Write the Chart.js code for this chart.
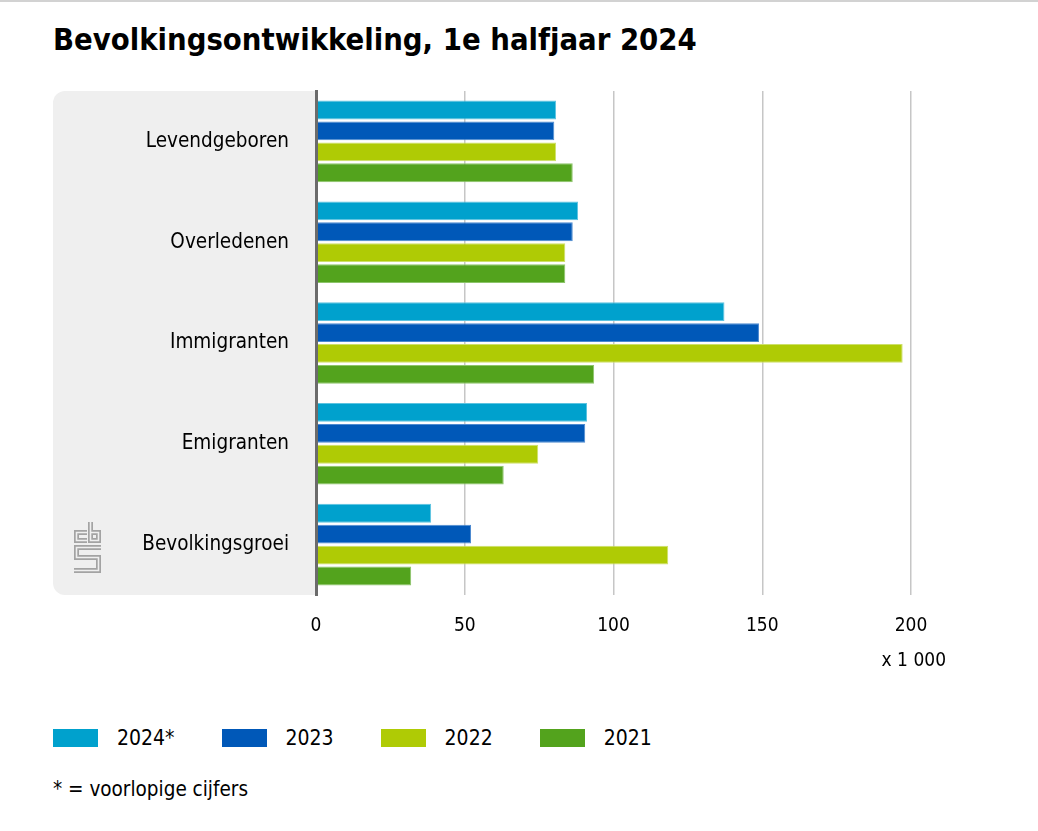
<!DOCTYPE html>
<html>
<head>
<meta charset="utf-8">
<script src="https://cdn.jsdelivr.net/npm/chart.js@4.4.1/dist/chart.umd.min.js"></script>
<style>
  body { margin: 0; background: #fff; font-family: 'DejaVu Sans Condensed', 'DejaVu Sans', sans-serif; }
  #topline { position: absolute; left: 0; top: 0; width: 1038px; height: 2px; background: #d2d2d2; }
  #title { position: absolute; left: 53px; top: 22px; font-size: 30.7px; font-weight: bold; color: #000; white-space: nowrap; }
  #wrap { position: absolute; left: 53px; top: 81px; width: 907px; height: 599px; }
  #legend { position: absolute; left: 53px; top: 726px; display: flex; font-size: 21px; color: #000; }
  .item { display: flex; align-items: center; margin-right: 47px; }
  .box { width: 45px; height: 18px; margin-right: 19px; }
  #note { position: absolute; left: 53px; top: 777px; font-size: 20.5px; color: #000; }
</style>
</head>
<body>
<div id="topline"></div>
<div id="title">Bevolkingsontwikkeling, 1e halfjaar 2024</div>
<div id="wrap"><canvas id="chart"></canvas></div>
<div id="legend"></div>
<div id="note">* = voorlopige cijfers</div>
<script>
const categories = ['Levendgeboren', 'Overledenen', 'Immigranten', 'Emigranten', 'Bevolkingsgroei'];
const seriesNames = ['2024*', '2023', '2022', '2021'];
const values2024 = [80.7, 88.1, 137.3, 91.1, 38.7];
const values2023 = [80.1, 86.3, 148.9, 90.5, 52.1];
const values2022 = [80.7, 83.8, 197.2, 74.7, 118.4];
const values2021 = [86.3, 83.8, 93.5, 63.1, 32.0];
const xTicks = [0, 50, 100, 150, 200];
const unitLabel = 'x 1 000';

const colors = ['#00a1cd', '#0058b8', '#afcb05', '#53a31d'];
const edges = ['#5cc3e0', '#4d8ad0', '#cde06a', '#8cc46a'];
const allValues = [values2024, values2023, values2022, values2021];

const fontFam = "'DejaVu Sans Condensed', 'DejaVu Sans', sans-serif";
Chart.defaults.font.family = fontFam;
Chart.defaults.color = '#000';

// grijs paneel achter de categorieen + logo + eenheid
const panelPlugin = {
    id: 'panel',
    beforeDraw(chart) {
        const ctx = chart.ctx;
        const a = chart.chartArea;
        ctx.save();
        ctx.fillStyle = '#efefef';
        ctx.beginPath();
        ctx.roundRect(0, a.top, a.left, a.bottom - a.top, [12, 0, 0, 12]);
        ctx.fill();

        // cbs logo, ruwweg; punten gemeten t.o.v. linksonder plotgebied (316, 595)
        const paths = [
            [[87, 532.5], [76.5, 532.5], [76.5, 540.5], [87, 540.5]],
            [[90.5, 522], [90.5, 540.5], [98.5, 540.5], [98.5, 532.5], [90.5, 532.5]],
            [[101, 547.5], [76.5, 547.5], [76.5, 557.5], [98.5, 557.5], [98.5, 570.5], [74, 570.5]]
        ];
        ctx.lineJoin = 'miter';
        ctx.lineCap = 'butt';
        [[5, '#a3a3a3'], [1.6, '#efefef']].forEach(function(st) {
            ctx.lineWidth = st[0];
            ctx.strokeStyle = st[1];
            paths.forEach(function(p) {
                ctx.beginPath();
                p.forEach(function(pt, i) {
                    const x = pt[0] - 316 + a.left;
                    const y = pt[1] - 595 + a.bottom;
                    if (i === 0) ctx.moveTo(x, y);
                    else ctx.lineTo(x, y);
                });
                ctx.stroke();
            });
        });
        ctx.restore();
    },
    afterDraw(chart) {
        const ctx = chart.ctx;
        const a = chart.chartArea;
        ctx.save();
        ctx.font = '19px ' + fontFam;
        ctx.fillStyle = '#000';
        ctx.textAlign = 'right';
        ctx.textBaseline = 'middle';
        ctx.fillText(unitLabel, a.right + 35, a.bottom + 66);
        ctx.restore();
    }
};

const datasets = seriesNames.map(function(name, i) {
    return {
        label: name,
        data: allValues[i],
        backgroundColor: colors[i],
        borderColor: edges[i],
        borderWidth: 1,
        borderSkipped: 'start',
        barPercentage: 0.9,
        categoryPercentage: 0.83
    };
});

new Chart(document.getElementById('chart'), {
    type: 'bar',
    data: { labels: categories, datasets: datasets },
    options: {
        indexAxis: 'y',
        responsive: true,
        maintainAspectRatio: false,
        animation: false,
        layout: { padding: { top: 10, right: 49, left: 0, bottom: 0 } },
        plugins: {
            legend: { display: false },
            tooltip: { enabled: false }
        },
        scales: {
            x: {
                min: xTicks[0],
                max: xTicks[xTicks.length - 1],
                afterBuildTicks(scale) {
                    scale.ticks = xTicks.map(function(v) { return { value: v }; });
                },
                afterFit(scale) { scale.height = 85; },
                grid: { color: '#c6c6c6', lineWidth: 1.5, drawTicks: false },
                border: { display: false },
                ticks: { padding: 20, font: { size: 19 }, color: '#000' }
            },
            y: {
                afterFit(scale) {
                    scale.width = 263;
                    scale.paddingTop = 0;
                    scale.paddingBottom = 0;
                },
                grid: { display: false, drawTicks: false },
                border: { display: true, color: '#6b6b6b', width: 3, z: 1 },
                ticks: { padding: 27, font: { size: 20.5 }, color: '#000' }
            }
        }
    },
    plugins: [panelPlugin]
});

// legenda
const legend = document.getElementById('legend');
seriesNames.forEach(function(name, i) {
    const item = document.createElement('div');
    item.className = 'item';
    const box = document.createElement('div');
    box.className = 'box';
    box.style.background = colors[i];
    const txt = document.createElement('span');
    txt.textContent = name;
    item.appendChild(box);
    item.appendChild(txt);
    legend.appendChild(item);
});
</script>
</body>
</html>
